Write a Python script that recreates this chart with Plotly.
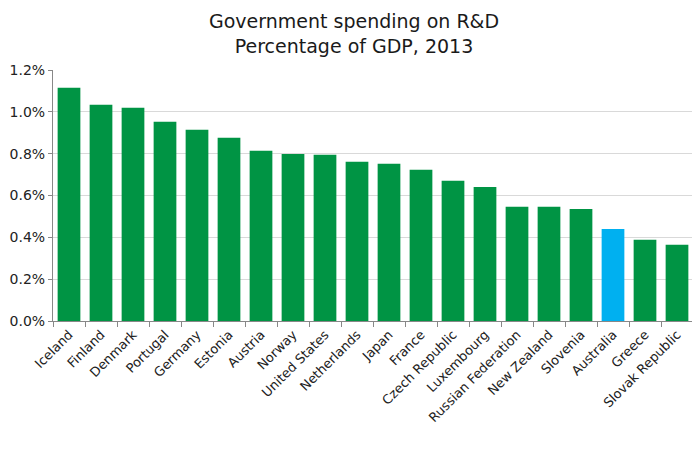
import plotly.graph_objs as go

# datos
paises = ['Iceland', 'Finland', 'Denmark', 'Portugal', 'Germany', 'Estonia', 'Austria',
          'Norway', 'United States', 'Netherlands', 'Japan', 'France', 'Czech Republic',
          'Luxembourg', 'Russian Federation', 'New Zealand', 'Slovenia', 'Australia',
          'Greece', 'Slovak Republic']
gasto = [1.115, 1.034, 1.020, 0.953, 0.914, 0.876, 0.814, 0.799, 0.795, 0.761,
         0.752, 0.723, 0.670, 0.641, 0.546, 0.546, 0.536, 0.440, 0.388, 0.364]

colores = ['#00B0F0' if p == 'Australia' else '#009444' for p in paises]

data = go.Bar(x=paises, y=gasto, marker=dict(color=colores, line=dict(width=0)))

# la pagina tiene 8px de margen en body, por eso la figura es algo mas chica
layout = go.Layout(
    title=dict(text='Government spending on R&D<br>Percentage of GDP, 2013',
               x=0.5, xanchor='center', y=0.955, yanchor='top',
               font=dict(family='DejaVu Sans', size=19, color='#1a1a1a')),
    width=692, height=442,
    margin=dict(l=45, r=7, t=62, b=129),
    plot_bgcolor='white', paper_bgcolor='white',
    bargap=0.29,
    showlegend=False,
    xaxis=dict(tickangle=-45, tickfont=dict(family='DejaVu Sans', size=13, color='#222'),
               showline=True, linecolor='#888', linewidth=1,
               ticks='outside', tickson='boundaries', ticklen=5, tickcolor='#888',
               showgrid=False, automargin=False),
    yaxis=dict(range=[0, 1.2], dtick=0.2, tickformat='.1f', ticksuffix='%',
               tickfont=dict(family='DejaVu Sans', size=14, color='#222'),
               showline=True, linecolor='#888', linewidth=1,
               ticks='outside', ticklen=4, tickcolor='#888',
               gridcolor='#d9d9d9', gridwidth=1, zeroline=False, automargin=False),
)

fig = go.Figure(data, layout)
fig.write_html('out.html')
